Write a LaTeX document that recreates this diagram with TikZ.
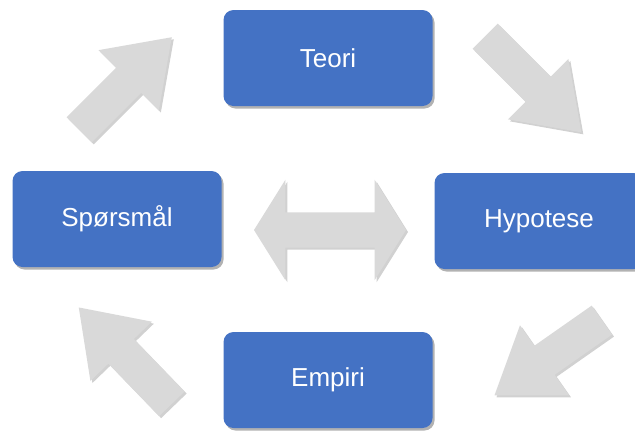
\documentclass[tikz,border=0pt]{standalone}
\usepackage{fontspec}
\setmainfont{Liberation Sans}
\usetikzlibrary{shapes.arrows,shadows}
\definecolor{boxblue}{HTML}{4472C4}
\definecolor{arrowgray}{HTML}{D9D9D9}
\begin{document}
\begin{tikzpicture}[x=1pt,y=-1pt,
  box/.style={rectangle,rounded corners=10pt,fill=boxblue,text=white,
    minimum width=209pt,minimum height=96pt,font=\fontsize{26}{30}\selectfont,
    drop shadow={shadow xshift=2pt,shadow yshift=-2.5pt,fill=black,opacity=0.3}},
  bigarrow/.style={single arrow,fill=arrowgray,inner sep=0pt,inner ysep=17.5pt,
    single arrow head extend=25pt,single arrow tip angle=70,anchor=tail,
    drop shadow={shadow xshift=2pt,shadow yshift=-2pt,fill=black,opacity=0.18}}]
\clip (0,0) rectangle (635,432);
\fill[white] (0,0) rectangle (635,432);

\node[box] (teori) at (328,58) {Teori};
\node[box] (sporsmal) at (117,219) {Spørsmål};
\node[box] (hypotese) at (539,221) {Hypotese};
\node[box] (empiri) at (328,380) {Empiri};

\node[bigarrow,minimum height=131pt,rotate=45] (pilTeori) at (79,130) {};
\node[bigarrow,minimum height=136pt,rotate=-45] (pilHypotese) at (485,36) {};
\node[bigarrow,minimum height=131pt,rotate=-145] (pilEmpiri) at (602,320) {};
\node[bigarrow,minimum height=134pt,rotate=134] (pilSporsmal) at (172,404) {};

\node[double arrow,fill=arrowgray,inner sep=0pt,inner ysep=17.5pt,
  minimum height=152pt,double arrow head extend=32.5pt,double arrow tip angle=116,
  drop shadow={shadow xshift=2pt,shadow yshift=-2pt,fill=black,opacity=0.18}]
  (midtpil) at (330,230) {};
\end{tikzpicture}
\end{document}
